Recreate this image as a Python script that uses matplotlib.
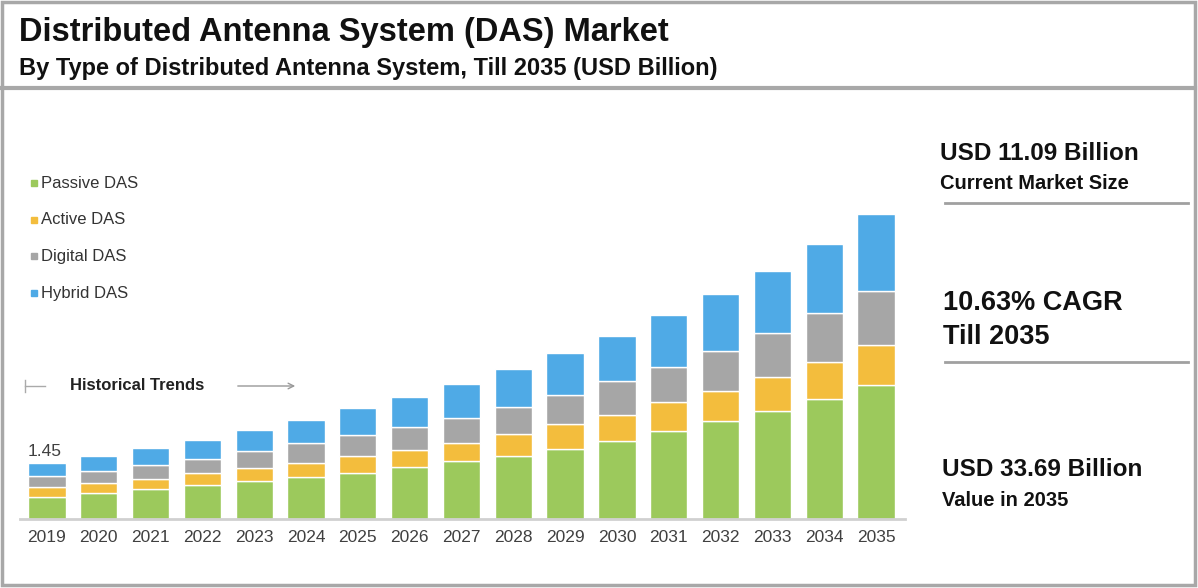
import matplotlib.pyplot as plt
import numpy as np
from matplotlib.patches import Rectangle
from matplotlib.lines import Line2D

# Data (USD Billion)
years = [str(y) for y in range(2019, 2036)]
passive = [0.58, 0.69, 0.77, 0.89, 0.99, 1.10, 1.20, 1.35, 1.50, 1.65, 1.83, 2.02, 2.30, 2.55, 2.82, 3.13, 3.49]
active = [0.25, 0.26, 0.27, 0.31, 0.33, 0.35, 0.45, 0.45, 0.49, 0.56, 0.64, 0.68, 0.74, 0.79, 0.89, 0.96, 1.04]
digital = [0.29, 0.30, 0.37, 0.37, 0.45, 0.52, 0.53, 0.60, 0.65, 0.70, 0.77, 0.89, 0.93, 1.04, 1.13, 1.28, 1.41]
hybrid = [0.33, 0.39, 0.43, 0.49, 0.55, 0.61, 0.71, 0.77, 0.87, 0.99, 1.09, 1.17, 1.33, 1.47, 1.63, 1.80, 2.00]
series_names = ["Passive DAS", "Active DAS", "Digital DAS", "Hybrid DAS"]
colors = ["#9CC95C", "#F3BD3D", "#A6A6A6", "#4FAAE6"]

W, H = 1198, 588
fig = plt.figure(figsize=(W / 100, H / 100), dpi=100)
arial = ['Liberation Sans', 'DejaVu Sans']


def fx(px):
    return px / W


def fy(py):
    return 1 - py / H


# frame and title separator
fig.patches.append(Rectangle((fx(2), fy(585)), fx(1193), (583) / H, transform=fig.transFigure,
                             fill=False, edgecolor="#A8A8A8", linewidth=2.5))
fig.add_artist(Line2D([fx(2), fx(1195)], [fy(88), fy(88)], color="#A8A8A8", linewidth=3))

fig.text(fx(19), fy(32), "Distributed Antenna System (DAS) Market", fontsize=23.5, fontweight='bold',
         family=arial, va='center', ha='left', color='#111111')
fig.text(fx(19), fy(69), "By Type of Distributed Antenna System, Till 2035 (USD Billion)", fontsize=17,
         fontweight='bold', family=arial, va='center', ha='left', color='#111111')

# bar chart
ax = fig.add_axes([fx(20), fy(519), fx(905) - fx(20), (519 - 150) / H])
x = np.arange(len(years))
bottom = np.zeros(len(years))
for vals, name, c in zip([passive, active, digital, hybrid], series_names, colors):
    ax.bar(x, vals, width=0.72, bottom=bottom, color=c, edgecolor='white', linewidth=1, label=name)
    bottom += np.array(vals)

ax.set_xlim(-0.52, 16.56)
ax.set_ylim(0, 369 / 38.4)
for s in ['top', 'right', 'left']:
    ax.spines[s].set_visible(False)
ax.spines['bottom'].set_color('#D0D0D0')
ax.spines['bottom'].set_linewidth(2)
ax.set_yticks([])
ax.set_xticks(x)
ax.set_xticklabels(years, fontsize=12.5, color='#404040', family=arial)
ax.tick_params(axis='x', length=0, pad=8)

ax.text(x[0] - 0.38, bottom[0] + 0.1, "1.45", fontsize=12.5, color='#404040', family=arial,
        ha='left', va='bottom')

# legend
for i, (name, c) in enumerate(zip(series_names, colors)):
    yy = fy(183 + i * 36.7)
    fig.patches.append(Rectangle((fx(31), yy - 3 / H), 6 / W, 6 / H, transform=fig.transFigure,
                                 color=c))
    fig.text(fx(41), yy, name, fontsize=12, color='#333333', family=arial, va='center', ha='left')

# historical trends marker
fig.text(fx(70), fy(386), "Historical Trends", fontsize=12, fontweight='bold', color='#222222',
         family=arial, va='center', ha='left')
fig.add_artist(Line2D([fx(25), fx(25)], [fy(380), fy(392)], color='#AAAAAA', linewidth=1))
fig.add_artist(Line2D([fx(25), fx(45)], [fy(386), fy(386)], color='#AAAAAA', linewidth=1))
fig.add_artist(plt.Annotation("", xy=(fx(298), fy(386)), xytext=(fx(235), fy(386)),
                              xycoords='figure fraction',
                              arrowprops=dict(arrowstyle='->', color='#999999', lw=1)))

# right panel
fig.text(fx(940), fy(153), "USD 11.09 Billion", fontsize=17.5, fontweight='bold', color='#111111',
         family=arial, va='center', ha='left')
fig.text(fx(940), fy(183), "Current Market Size", fontsize=14.5, fontweight='bold', color='#111111',
         family=arial, va='center', ha='left')
fig.add_artist(Line2D([fx(945), fx(1188)], [fy(203), fy(203)], color='#A0A0A0', linewidth=2))
fig.text(fx(943), fy(303), "10.63% CAGR", fontsize=19.5, fontweight='bold', color='#111111',
         family=arial, va='center', ha='left')
fig.text(fx(943), fy(337), "Till 2035", fontsize=19.5, fontweight='bold', color='#111111',
         family=arial, va='center', ha='left')
fig.add_artist(Line2D([fx(945), fx(1188)], [fy(362), fy(362)], color='#A0A0A0', linewidth=2))
fig.text(fx(942), fy(470), "USD 33.69 Billion", fontsize=17.5, fontweight='bold', color='#111111',
         family=arial, va='center', ha='left')
fig.text(fx(942), fy(500), "Value in 2035", fontsize=14.5, fontweight='bold', color='#111111',
         family=arial, va='center', ha='left')

fig.savefig('out.png', dpi=100)
